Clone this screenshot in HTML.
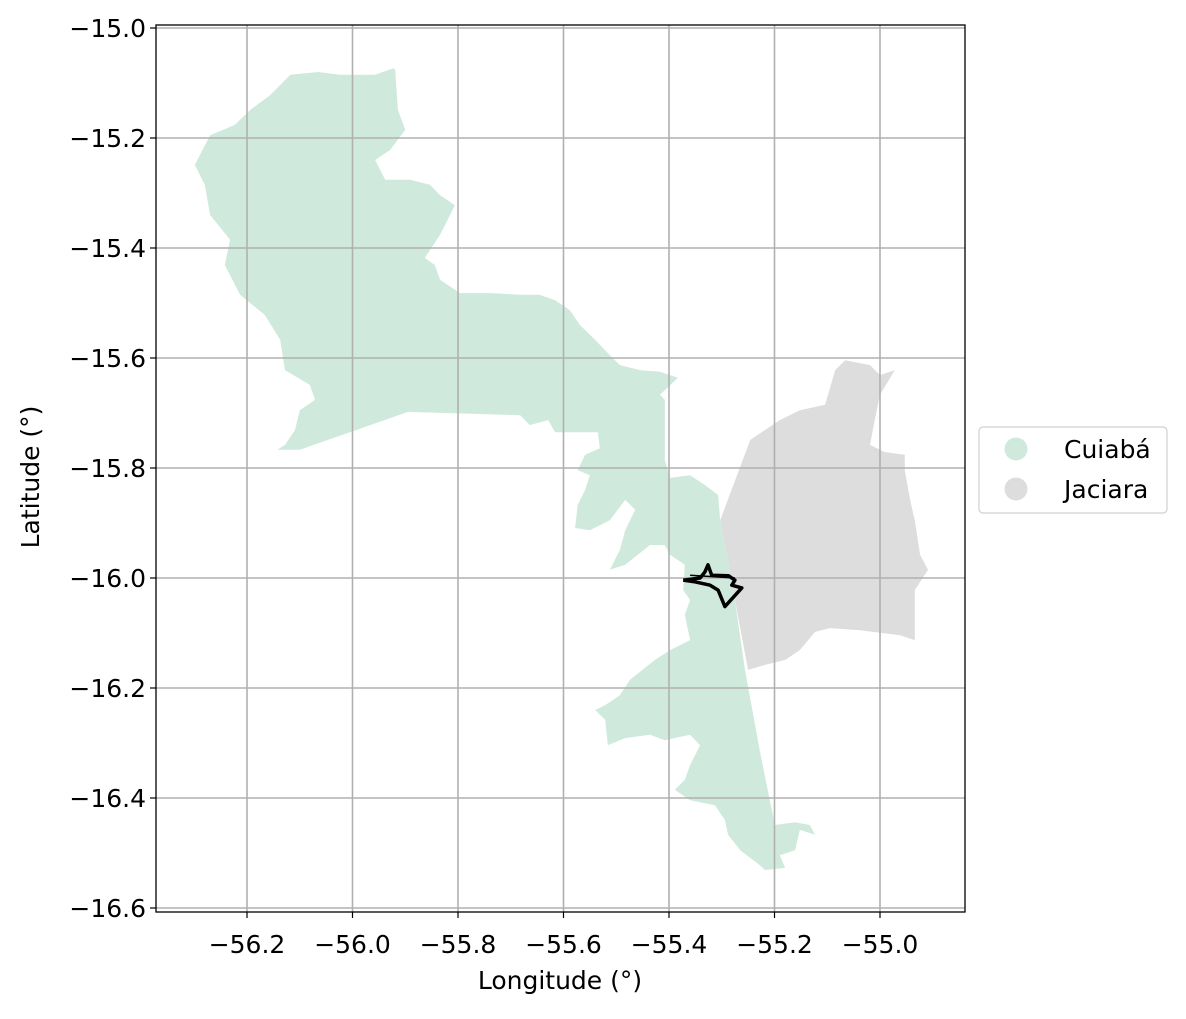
<!DOCTYPE html>
<html><head><meta charset="utf-8"><style>
body{margin:0;background:#fff}
</style></head><body>
<svg id="c" width="1186" height="1014"></svg>
<script>
const cuiaba=[[-56.143,-15.767],[-56.100,-15.767],[-55.895,-15.698],[-55.682,-15.704],[-55.664,-15.722],[-55.629,-15.713],[-55.616,-15.735],[-55.535,-15.735],[-55.531,-15.764],[-55.559,-15.776],[-55.573,-15.804],[-55.550,-15.813],[-55.559,-15.840],[-55.573,-15.867],[-55.578,-15.909],[-55.550,-15.913],[-55.512,-15.895],[-55.483,-15.858],[-55.464,-15.876],[-55.483,-15.913],[-55.493,-15.949],[-55.512,-15.985],[-55.483,-15.976],[-55.436,-15.940],[-55.408,-15.940],[-55.398,-15.958],[-55.370,-15.976],[-55.373,-16.022],[-55.360,-16.040],[-55.370,-16.067],[-55.360,-16.113],[-55.398,-16.131],[-55.427,-16.149],[-55.474,-16.185],[-55.493,-16.213],[-55.521,-16.231],[-55.540,-16.240],[-55.521,-16.258],[-55.516,-16.304],[-55.483,-16.291],[-55.436,-16.285],[-55.408,-16.295],[-55.360,-16.285],[-55.341,-16.304],[-55.360,-16.340],[-55.370,-16.367],[-55.389,-16.385],[-55.360,-16.404],[-55.313,-16.413],[-55.294,-16.440],[-55.288,-16.467],[-55.265,-16.495],[-55.228,-16.522],[-55.218,-16.531],[-55.180,-16.527],[-55.190,-16.504],[-55.161,-16.495],[-55.152,-16.458],[-55.123,-16.467],[-55.133,-16.449],[-55.161,-16.444],[-55.199,-16.449],[-55.209,-16.404],[-55.228,-16.313],[-55.256,-16.167],[-55.275,-16.040],[-55.303,-15.895],[-55.307,-15.849],[-55.332,-15.831],[-55.360,-15.813],[-55.398,-15.818],[-55.408,-15.785],[-55.408,-15.676],[-55.417,-15.667],[-55.383,-15.636],[-55.417,-15.625],[-55.455,-15.622],[-55.493,-15.613],[-55.512,-15.595],[-55.540,-15.567],[-55.569,-15.540],[-55.588,-15.513],[-55.616,-15.495],[-55.645,-15.485],[-55.682,-15.485],[-55.739,-15.482],[-55.796,-15.482],[-55.834,-15.458],[-55.844,-15.431],[-55.863,-15.418],[-55.834,-15.376],[-55.815,-15.340],[-55.806,-15.322],[-55.834,-15.304],[-55.853,-15.285],[-55.891,-15.276],[-55.938,-15.276],[-55.957,-15.240],[-55.929,-15.222],[-55.900,-15.185],[-55.914,-15.149],[-55.919,-15.076],[-55.923,-15.073],[-55.957,-15.085],[-56.024,-15.085],[-56.065,-15.080],[-56.118,-15.085],[-56.156,-15.122],[-56.194,-15.149],[-56.223,-15.176],[-56.270,-15.195],[-56.299,-15.249],[-56.280,-15.285],[-56.270,-15.340],[-56.232,-15.385],[-56.242,-15.431],[-56.213,-15.485],[-56.166,-15.522],[-56.137,-15.567],[-56.128,-15.622],[-56.081,-15.649],[-56.071,-15.676],[-56.100,-15.695],[-56.109,-15.731],[-56.128,-15.758]];
const jaciara=[[-55.303,-15.895],[-55.246,-15.749],[-55.218,-15.731],[-55.190,-15.713],[-55.152,-15.695],[-55.104,-15.685],[-55.085,-15.622],[-55.066,-15.604],[-55.019,-15.613],[-55.000,-15.631],[-54.972,-15.622],[-55.000,-15.667],[-55.010,-15.713],[-55.019,-15.758],[-54.991,-15.771],[-54.953,-15.776],[-54.953,-15.804],[-54.943,-15.858],[-54.934,-15.895],[-54.924,-15.958],[-54.909,-15.985],[-54.934,-16.022],[-54.934,-16.113],[-54.962,-16.104],[-55.038,-16.095],[-55.095,-16.091],[-55.123,-16.098],[-55.152,-16.131],[-55.180,-16.149],[-55.218,-16.158],[-55.250,-16.167],[-55.275,-16.040]];
const track=[[-55.373,-16.004],[-55.341,-16.000],[-55.332,-15.989],[-55.326,-15.976],[-55.319,-15.995],[-55.287,-15.996],[-55.275,-16.004],[-55.281,-16.013],[-55.262,-16.018],[-55.294,-16.052],[-55.307,-16.022],[-55.322,-16.013],[-55.350,-16.007],[-55.373,-16.004]];
const trackThin=[[-55.360,-15.995],[-55.275,-16.000]];
const xTicks=[-56.2,-56.0,-55.8,-55.6,-55.4,-55.2,-55.0];
const yTicks=[-15.0,-15.2,-15.4,-15.6,-15.8,-16.0,-16.2,-16.4,-16.6];
const legendNames=["Cuiabá","Jaciara"];
const legendColors=["#cfeadd","#dddddd"];

const svg=document.getElementById('c');
const NS='http://www.w3.org/2000/svg';
const X=v=>247+(v+56.2)*527.5;
const Y=v=>28+(-15.0-v)*550;
const FONT='font-family:"DejaVu Sans","Liberation Sans",sans-serif;font-size:25px;fill:#000';
function mk(t,a,p){const e=document.createElementNS(NS,t);for(const k in a)e.setAttribute(k,a[k]);if(t==='text')e.setAttribute('style',FONT);(p||svg).appendChild(e);return e;}
const pts=a=>a.map(p=>X(p[0]).toFixed(1)+','+Y(p[1]).toFixed(1)).join(' ');
let e;
e=mk('polygon',{points:pts(cuiaba),fill:legendColors[0]});


e=mk('polygon',{points:pts(jaciara),fill:legendColors[1]});


xTicks.forEach(t=>{
  e=mk('line',{x1:X(t),x2:X(t),y1:25,y2:912,stroke:'#b0b0b0','stroke-width':1.6});
  
  
  mk('line',{x1:X(t),x2:X(t),y1:912,y2:918,stroke:'#000','stroke-width':1.2});
  e=mk('text',{x:X(t),y:953,'text-anchor':'middle'});e.textContent=t.toFixed(1).replace('-','−');
  
  
});
yTicks.forEach(t=>{
  e=mk('line',{x1:156,x2:965,y1:Y(t),y2:Y(t),stroke:'#b0b0b0','stroke-width':1.6});
  
  
  mk('line',{x1:150,x2:156,y1:Y(t),y2:Y(t),stroke:'#000','stroke-width':1.2});
  e=mk('text',{x:146,y:Y(t)+9,'text-anchor':'end'});e.textContent=t.toFixed(1).replace('-','−');
  
  
});
e=mk('polyline',{points:pts(track),fill:'none',stroke:'#000','stroke-width':3.5,'stroke-linejoin':'round'});


e=mk('polyline',{points:pts(trackThin),fill:'none',stroke:'#000','stroke-width':1.5});


e=mk('rect',{x:156,y:25,width:809,height:887,fill:'none',stroke:'#000','stroke-width':1.3});


e=mk('text',{x:560,y:989,'text-anchor':'middle'});e.textContent='Longitude (°)';


e=mk('text',{x:39,y:477,'text-anchor':'middle',transform:'rotate(-90 39 477)'});e.textContent='Latitude (°)';


e=mk('rect',{x:979,y:427,width:188,height:86,rx:4,fill:'#fff',stroke:'#d0d0d0','stroke-width':1.2});


legendNames.forEach((n,i)=>{
  e=mk('circle',{cx:1016,cy:449+i*40,r:11.5,fill:legendColors[i]});
  
  
  e=mk('text',{x:1064,y:458+i*40});e.textContent=n;
  
  
});
</script>
</body></html>
